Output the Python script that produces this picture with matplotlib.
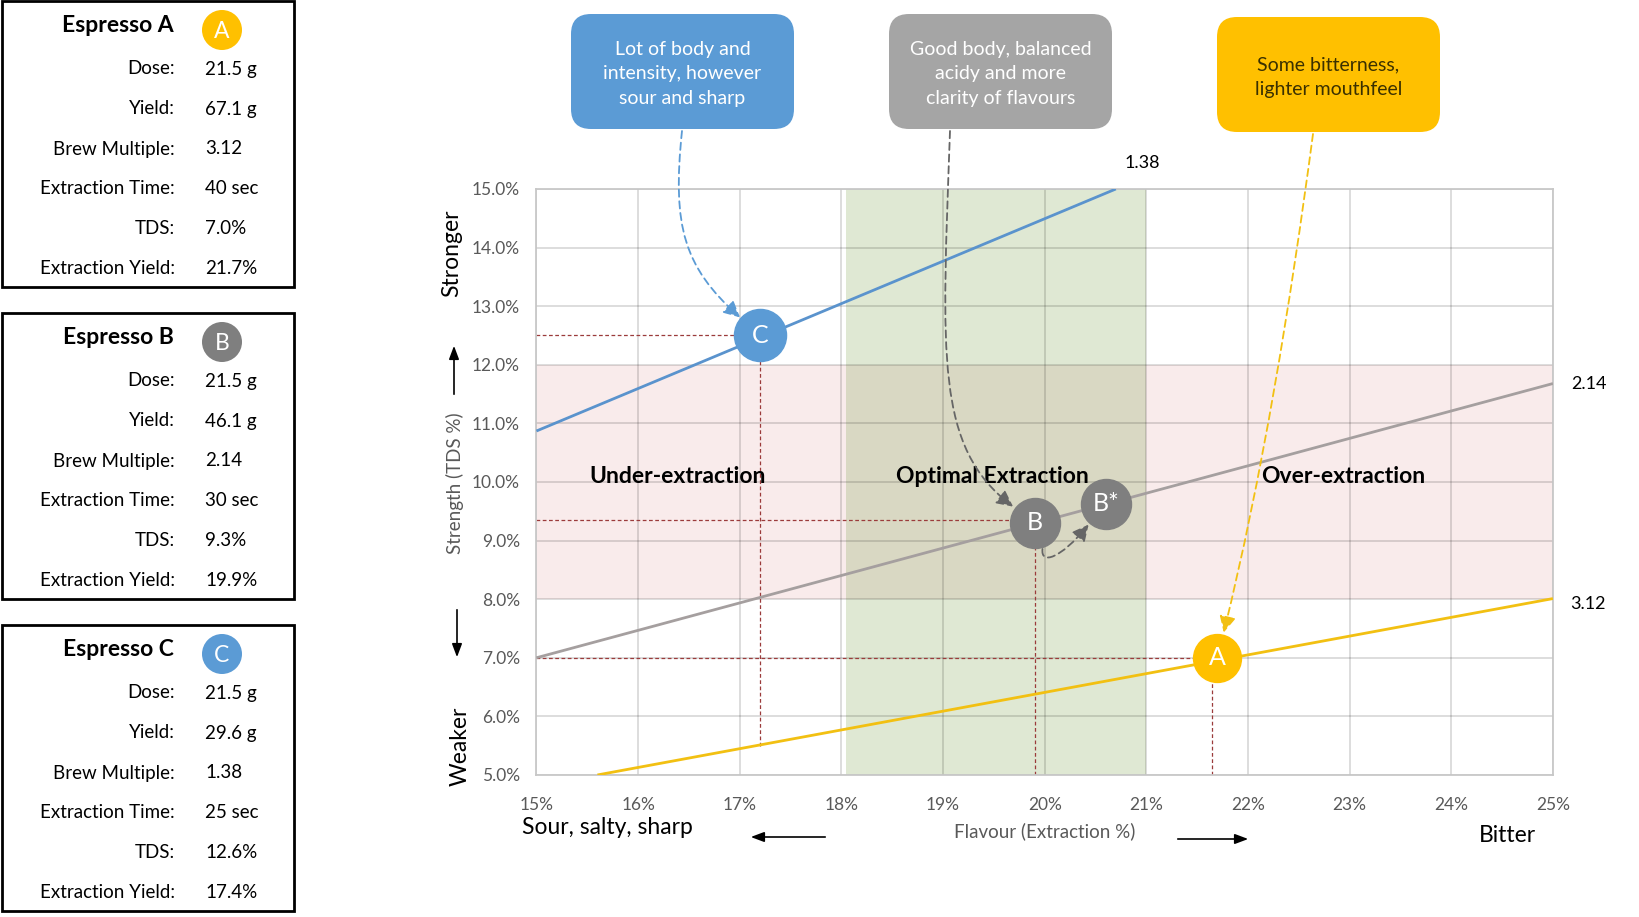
import numpy as np
import matplotlib
matplotlib.use('Agg')
from matplotlib import pyplot as plt
from matplotlib.patches import FancyBboxPatch, Rectangle, FancyArrowPatch, Circle
from matplotlib.path import Path
from matplotlib.transforms import IdentityTransform

plt.rcParams['font.family'] = ['Lato', 'DejaVu Sans']

# Brew-multiple lines (extraction %, TDS %)
ratio_labels = ['1.38', '2.14', '3.12']
line_ey = [[15.0, 20.7], [15.0, 25.0], [15.6, 25.0]]
line_tds = [[10.87, 15.0], [7.0, 11.68], [5.0, 8.01]]
line_colors = ['#5a93cd', '#a59f9f', '#f2c012']

# Shots plotted on the chart
shot_names = ['C', 'B', 'B*', 'A']
shot_ey = [17.2, 19.9, 20.6, 21.7]
shot_tds = [12.5, 9.3, 9.63, 7.0]
shot_colors = ['#5b9bd5', '#7f7f7f', '#7f7f7f', '#ffc000']

# Dashed guides from shots to the axes (x, y, bottom of the vertical guide)
guide_ey = [17.2, 19.9, 21.65]
guide_tds = [12.5, 9.35, 7.0]
guide_bottom = [5.5, 5.0, 5.0]

# Zones
optimal_ey = [18.05, 21.0]
ideal_tds = [8.0, 12.0]
zone_names = ['Under-extraction', 'Optimal Extraction', 'Over-extraction']
zone_x = [16.39, 19.49, 22.94]
zone_y = 10.1

x_ticks = list(range(15, 26))
y_ticks = list(range(5, 16))

# Left-hand cards
cards = ['Espresso A', 'Espresso B', 'Espresso C']
card_letters = ['A', 'B', 'C']
card_colors = ['#ffc000', '#7f7f7f', '#5b9bd5']
row_names = ['Dose:', 'Yield:', 'Brew Multiple:', 'Extraction Time:', 'TDS:', 'Extraction Yield:']
card_values = [
    ['21.5 g', '67.1 g', '3.12', '40 sec', '7.0%', '21.7%'],
    ['21.5 g', '46.1 g', '2.14', '30 sec', '9.3%', '19.9%'],
    ['21.5 g', '29.6 g', '1.38', '25 sec', '12.6%', '17.4%'],
]

callouts = ['Lot of body and\nintensity, however\nsour and sharp',
            'Good body, balanced\nacidy and more\nclarity of flavours',
            'Some bitterness,\nlighter mouthfeel']
callout_colors = ['#5b9bd5', '#a5a5a5', '#ffc000']
callout_text = ['white', 'white', '#3a3000']

fig = plt.figure(figsize=(16.4, 9.17), dpi=100)

# overlay in pixel coordinates (y down)
ov = fig.add_axes([0, 0, 1, 1])
ov.set_xlim(0, 1640)
ov.set_ylim(917, 0)
ov.axis('off')

ax = fig.add_axes([0.3271, 0.1549, 0.6198, 0.639])
ax.set_xlim(15, 25)
ax.set_ylim(5, 15)

# zones
ax.axvspan(optimal_ey[0], optimal_ey[1], color='#dfe8d3', lw=0, zorder=0.5)
ax.add_patch(Rectangle((15, ideal_tds[0]), optimal_ey[0] - 15, ideal_tds[1] - ideal_tds[0],
                       color='#f9ebeb', lw=0, zorder=0.5))
ax.add_patch(Rectangle((optimal_ey[1], ideal_tds[0]), 25 - optimal_ey[1], ideal_tds[1] - ideal_tds[0],
                       color='#f9ebeb', lw=0, zorder=0.5))
ax.add_patch(Rectangle((optimal_ey[0], ideal_tds[0]), optimal_ey[1] - optimal_ey[0],
                       ideal_tds[1] - ideal_tds[0], color='#d9d8c3', lw=0, zorder=0.6))

ax.set_xticks(x_ticks)
ax.set_yticks(y_ticks)
ax.set_xticklabels([f'{t}%' for t in x_ticks])
ax.set_yticklabels([f'{t:.1f}%' for t in y_ticks])
ax.tick_params(length=0, labelsize=12.5, labelcolor='#595959')
ax.tick_params(axis='x', pad=16)
ax.tick_params(axis='y', pad=12)
ax.grid(True, color='black', alpha=0.15, lw=1.3, zorder=1)
for s in ax.spines.values():
    s.set_color('#c8c8c8')
    s.set_linewidth(1.3)

# guides
for gx, gy, gb in zip(guide_ey, guide_tds, guide_bottom):
    ax.plot([15, gx], [gy, gy], color='#9b3b3b', lw=0.9, ls=(0, (3, 2)), zorder=2)
    ax.plot([gx, gx], [gb, gy], color='#9b3b3b', lw=0.9, ls=(0, (3, 2)), zorder=2)

# brew multiple lines
offsets = [(19, 19), (26, 0), (25, -4)]
for xs, ys, c, lab, off in zip(line_ey, line_tds, line_colors, ratio_labels, offsets):
    ax.plot(xs, ys, color=c, lw=2.0, zorder=3, solid_capstyle='butt')
    ax.annotate(lab, xy=(xs[-1], ys[-1]), xytext=off, textcoords='offset points',
                ha='center', va='center', fontsize=13, color='black', annotation_clip=False)

for name, zx in zip(zone_names, zone_x):
    ax.text(zx, zone_y, name, ha='center', va='center', fontsize=16.5, fontweight='bold', zorder=4)

# shots
sizes = [37.5, 36, 36, 34.5]
for n, x, y, c, ms in zip(shot_names, shot_ey, shot_tds, shot_colors, sizes):
    ax.plot([x], [y], 'o', ms=ms, color=c, mec=c, zorder=5)
    ax.text(x, y, n, ha='center', va='center', color='white', fontsize=18, zorder=6)

# axis side labels
ov.text(455, 483, 'Strength (TDS %)', rotation=90, ha='center', va='center', fontsize=13.5, color='#595959')
ov.text(452, 253, 'Stronger', rotation=90, ha='center', va='center', fontsize=16.5)
ov.text(460, 746, 'Weaker', rotation=90, ha='center', va='center', fontsize=16.5)
ov.annotate('', xy=(454, 343), xytext=(454, 397),
            arrowprops=dict(arrowstyle='-|>,head_width=0.3,head_length=0.8', color='black', lw=1.2))
ov.annotate('', xy=(457, 660), xytext=(457, 607),
            arrowprops=dict(arrowstyle='-|>,head_width=0.3,head_length=0.8', color='black', lw=1.2))
ov.text(607, 828, 'Sour, salty, sharp', ha='center', va='center', fontsize=16.5)
ov.text(1045, 831, 'Flavour (Extraction %)', ha='center', va='center', fontsize=13.5, color='#595959')
ov.text(1507, 836, 'Bitter', ha='center', va='center', fontsize=16.5)
ov.annotate('', xy=(748, 837), xytext=(828, 837),
            arrowprops=dict(arrowstyle='-|>,head_width=0.3,head_length=0.8', color='black', lw=1.2))
ov.annotate('', xy=(1251, 839), xytext=(1175, 839),
            arrowprops=dict(arrowstyle='-|>,head_width=0.3,head_length=0.8', color='black', lw=1.2))

# callout boxes
box_x = [571, 889, 1217]
box_y = [14, 14, 17]
for bx, by, c, txt, tc in zip(box_x, box_y, callout_colors, callouts, callout_text):
    ov.add_patch(FancyBboxPatch((bx, by), 223, 115, boxstyle='round,pad=0,rounding_size=20',
                                fc=c, ec='none'))
    ov.text(bx + 111.5, by + 60, txt, ha='center', va='center', color=tc,
            fontsize=14, linespacing=1.55)


def curved_arrow(p0, c1, c2, end_xy, r_px, color):
    ex, ey = ax.transData.transform(end_xy)
    dx, dy = ex - c2[0], ey - c2[1]
    n = np.hypot(dx, dy)
    end = (ex - dx / n * r_px, ey - dy / n * r_px)
    path = Path([p0, c1, c2, end], [Path.MOVETO, Path.CURVE4, Path.CURVE4, Path.CURVE4])
    arr = FancyArrowPatch(path=path, arrowstyle='-|>,head_width=0.35,head_length=0.7',
                          mutation_scale=14, lw=1.3, ls=(0, (4, 2.5)), color=color,
                          transform=IdentityTransform(), zorder=7)
    fig.add_artist(arr)


curved_arrow((682, 786), (672, 690), (684, 650), (shot_ey[0], shot_tds[0]), 27, '#5b9bd5')
curved_arrow((950, 786), (942, 560), (935, 470), (shot_ey[1], shot_tds[1]), 27, '#666666')
curved_arrow((1313, 783), (1290, 610), (1262, 440), (shot_ey[3], shot_tds[3]), 26, '#f2c012')
bx_, by_ = ax.transData.transform((shot_ey[1], shot_tds[1]))
curved_arrow((bx_ + 8, by_ - 26), (bx_ + 6, by_ - 42), (bx_ + 26, by_ - 36),
             (shot_ey[2], shot_tds[2]), 27, '#666666')

# cards
card_top = [1, 313, 625]
for top, title, letter, col, vals in zip(card_top, cards, card_letters, card_colors, card_values):
    ov.add_patch(Rectangle((2, top), 292, 286, fill=False, ec='black', lw=2))
    ov.text(174, top + 25, title, ha='right', va='center', fontsize=16.5, fontweight='bold')
    ov.add_patch(Circle((222, top + 29), 20, color=col, ec='none'))
    ov.text(222, top + 30, letter, ha='center', va='center', color='white', fontsize=16.5)
    for i, (rn, v) in enumerate(zip(row_names, vals)):
        yy = top + 68 + 40 * i
        ov.text(175, yy, rn, ha='right', va='center', fontsize=13.5)
        ov.text(205, yy, v, ha='left', va='center', fontsize=13.5)

fig.savefig('out.png', dpi=100)
